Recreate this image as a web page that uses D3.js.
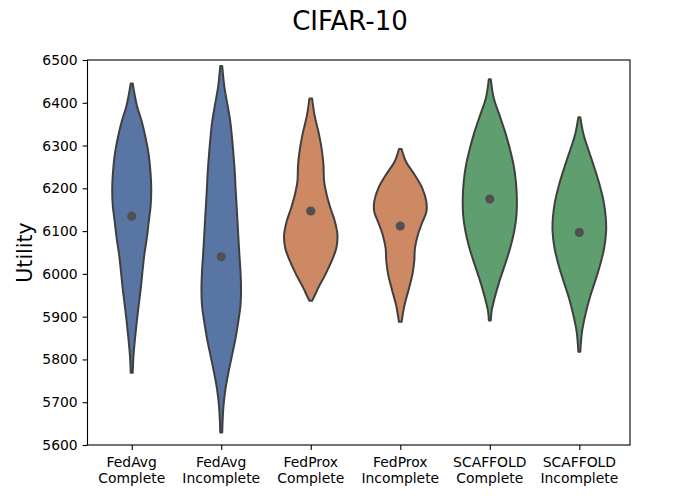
<!DOCTYPE html>
<html>
<head>
<meta charset="utf-8">
<script src="https://cdn.jsdelivr.net/npm/d3@7"></script>
<style>
  html, body { margin: 0; padding: 0; background: #ffffff; }
  svg { display: block; font-family: "DejaVu Sans", sans-serif; }
</style>
</head>
<body>
<svg id="chart" width="700" height="500"></svg>
<script>
// ---- data ----
const methods  = ["FedAvg", "FedAvg", "FedProx", "FedProx", "SCAFFOLD", "SCAFFOLD"];
const settings = ["Complete", "Incomplete", "Complete", "Incomplete", "Complete", "Incomplete"];
const groupOf  = [0, 0, 1, 1, 2, 2];
const groupColors = ["#5975a4", "#cc8963", "#5f9e6e"];
const means = [6135, 6040, 6147, 6112, 6175, 6097];
const yTicks = [5600, 5700, 5800, 5900, 6000, 6100, 6200, 6300, 6400, 6500];

// violin profiles: [utility value, half-width in category units]
const fedavgComplete = [
  [6445, 0.011], [6395, 0.056], [6356, 0.112], [6317, 0.156], [6278, 0.190],
  [6239, 0.209], [6200, 0.218], [6161, 0.212], [6122, 0.190], [6083, 0.168],
  [6044, 0.140], [6005, 0.120], [5966, 0.101], [5927, 0.078], [5888, 0.056],
  [5849, 0.037], [5810, 0.020], [5769, 0.011]
];
const fedavgIncomplete = [
  [6486, 0.011], [6434, 0.037], [6395, 0.070], [6356, 0.101], [6317, 0.121],
  [6278, 0.137], [6239, 0.151], [6200, 0.160], [6161, 0.171], [6122, 0.182],
  [6083, 0.192], [6044, 0.203], [6005, 0.215], [5966, 0.221], [5927, 0.215],
  [5888, 0.190], [5849, 0.159], [5810, 0.121], [5771, 0.082], [5732, 0.048],
  [5694, 0.026], [5655, 0.015], [5629, 0.011]
];
const fedproxComplete = [
  [6410, 0.015], [6371, 0.042], [6332, 0.086], [6293, 0.121], [6255, 0.142],
  [6216, 0.149], [6184, 0.179], [6153, 0.221], [6122, 0.270], [6091, 0.298],
  [6060, 0.285], [6029, 0.231], [5997, 0.160], [5966, 0.080], [5950, 0.045],
  [5937, 0.015]
];
const fedproxIncomplete = [
  [6292, 0.015], [6262, 0.064], [6231, 0.162], [6200, 0.246], [6169, 0.291],
  [6145, 0.291], [6122, 0.249], [6091, 0.196], [6060, 0.164], [6029, 0.156],
  [5997, 0.134], [5966, 0.097], [5927, 0.047], [5888, 0.015]
];
const scaffoldComplete = [
  [6455, 0.011], [6410, 0.045], [6371, 0.108], [6332, 0.171], [6293, 0.223],
  [6255, 0.265], [6216, 0.291], [6177, 0.302], [6138, 0.298], [6099, 0.272],
  [6060, 0.227], [6021, 0.168], [5982, 0.106], [5943, 0.053], [5912, 0.019],
  [5891, 0.011]
];
const scaffoldIncomplete = [
  [6366, 0.011], [6325, 0.048], [6286, 0.108], [6247, 0.170], [6208, 0.227],
  [6169, 0.272], [6130, 0.296], [6099, 0.299], [6060, 0.277], [6021, 0.232],
  [5982, 0.175], [5943, 0.115], [5904, 0.067], [5865, 0.030], [5818, 0.011]
];
const profiles = [fedavgComplete, fedavgIncomplete, fedproxComplete,
                  fedproxIncomplete, scaffoldComplete, scaffoldIncomplete];

// ---- layout ----
const svg = d3.select("#chart");
const L = 87.5, R = 630, T = 60, B = 445;
const FS = 13.9;

const x = d3.scaleLinear().domain([-0.494, 5.566]).range([L, R]);
const y = d3.scaleLinear().domain([5600, 6500]).range([B, T]);
const unit = x(1) - x(0);

// violins
const g = svg.append("g");
profiles.forEach((prof, i) => {
  const area = d3.area()
    .y(d => y(d[0]))
    .x0(d => x(i) - d[1] * unit)
    .x1(d => x(i) + d[1] * unit)
    .curve(d3.curveCatmullRom.alpha(0.5));
  g.append("path")
    .datum(prof)
    .attr("d", area)
    .attr("fill", groupColors[groupOf[i]])
    .attr("stroke", "#3f3f3f")
    .attr("stroke-width", 2)
    .attr("stroke-linejoin", "round");
});

// mean points
g.selectAll("circle.mean")
  .data(means)
  .enter().append("circle")
  .attr("class", "mean")
  .attr("cx", (d, i) => x(i))
  .attr("cy", d => y(d))
  .attr("r", 4.6)
  .attr("fill", "#505050");

// frame
svg.append("rect")
  .attr("x", L).attr("y", T)
  .attr("width", R - L).attr("height", B - T)
  .attr("fill", "none").attr("stroke", "#000").attr("stroke-width", 1.1);

// y axis
const yAxis = svg.append("g")
  .attr("transform", `translate(${L},0)`)
  .call(d3.axisLeft(y).tickValues(yTicks).tickFormat(d3.format("d"))
        .tickSize(4.9).tickSizeOuter(0).tickPadding(4.9));
yAxis.select(".domain").remove();
yAxis.selectAll("line").attr("stroke", "#000").attr("stroke-width", 1.1);
yAxis.selectAll("text").attr("font-size", FS).attr("fill", "#000")
  .attr("font-family", "DejaVu Sans");

// x axis
const xAxis = svg.append("g")
  .attr("transform", `translate(0,${B})`)
  .call(d3.axisBottom(x).tickValues(d3.range(methods.length)).tickFormat("")
        .tickSize(4.9).tickSizeOuter(0));
xAxis.select(".domain").remove();
xAxis.selectAll("line").attr("stroke", "#000").attr("stroke-width", 1.1);

const xl = svg.append("g").attr("font-size", FS).attr("text-anchor", "middle")
  .attr("font-family", "DejaVu Sans");
methods.forEach((m, i) => {
  const t = xl.append("text").attr("x", x(i)).attr("y", 467);
  t.append("tspan").attr("x", x(i)).attr("y", 467).text(m);
  t.append("tspan").attr("x", x(i)).attr("y", 483).text(settings[i]);
});

// y label
svg.append("text")
  .attr("transform", `translate(32,${(T + B) / 2}) rotate(-90)`)
  .attr("text-anchor", "middle")
  .attr("font-size", 20.5)
  .attr("font-family", "DejaVu Sans")
  .text("Utility");

// title
svg.append("text")
  .attr("x", 350).attr("y", 30)
  .attr("text-anchor", "middle")
  .attr("font-size", 26)
  .attr("font-family", "DejaVu Sans")
  .text("CIFAR-10");
</script>
</body>
</html>
